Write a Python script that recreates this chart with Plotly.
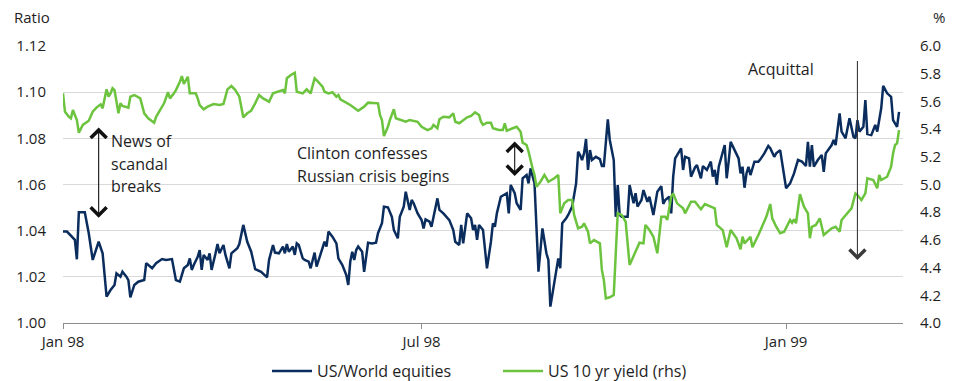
import pandas as pd
import plotly.graph_objects as go

# ---- data (day offsets from 1 Jan 1998) ----
equity_day = [0, 2, 6, 7, 8, 11, 13, 15, 18, 20, 22, 24, 26, 27, 29, 30, 32, 33, 34, 36, 38, 41, 42, 45, 47,
              50, 52, 55, 57, 59, 61, 63, 64, 65, 66, 68, 69, 70, 71, 73, 74, 75, 77, 78, 79, 81, 82, 84, 85,
              88, 89, 91, 93, 95, 97, 100, 103, 104, 106, 107, 109, 111, 112, 113, 114, 116, 117, 118, 119,
              121, 122, 124, 125, 126, 127, 128, 129, 131, 132, 133, 134, 136, 138, 139, 141, 143, 144, 145,
              146, 147, 148, 149, 151, 152, 153, 154, 156, 158, 159, 161, 162, 164, 166, 167, 169, 170, 172,
              173, 175, 176, 177, 179, 181, 182, 183, 185, 186, 188, 189, 190, 192, 195, 197, 198, 200, 201,
              202, 204, 206, 207, 208, 209, 210, 212, 214, 216, 217, 218, 219, 221, 223, 224, 225, 226, 228,
              229, 231, 232, 234, 235, 236, 237, 238, 240, 241, 242, 244, 245, 246, 248, 250, 251, 252, 254,
              255, 257, 259, 260, 261, 262, 263, 264, 265, 266, 267, 269, 271, 272, 273, 275, 276, 278, 279,
              280, 281, 282, 285, 286, 288, 289, 290, 292, 293, 295, 296, 298, 300, 302, 303, 304, 306, 307,
              308, 309, 312, 313, 314, 316, 317, 319, 320, 322, 323, 325, 327, 328, 329, 330, 331, 334, 335,
              336, 337, 339, 341, 342, 343, 344, 345, 346, 347, 349, 351, 352, 354, 356, 357, 359, 360, 362,
              363, 365, 367, 369, 371, 373, 375, 376, 377, 378, 379, 381, 383, 384, 385, 388, 389, 390, 392,
              393, 395, 397, 399, 400, 401, 402, 404, 405, 406, 408, 410, 411, 413, 414, 416, 418, 419, 421,
              422]
equity_ratio = [1.0396, 1.0396, 1.0360, 1.0276, 1.0480, 1.0480, 1.0389, 1.0273, 1.0352, 1.0302, 1.0114,
                1.0143, 1.0165, 1.0215, 1.0201, 1.0222, 1.0201, 1.0186, 1.0111, 1.0165, 1.0179, 1.0186,
                1.0259, 1.0237, 1.0259, 1.0277, 1.0273, 1.0277, 1.0186, 1.0179, 1.0237, 1.0251, 1.0280,
                1.0230, 1.0251, 1.0287, 1.0316, 1.0230, 1.0295, 1.0273, 1.0302, 1.0230, 1.0302, 1.0342,
                1.0302, 1.0338, 1.0295, 1.0237, 1.0302, 1.0324, 1.0342, 1.0425, 1.0352, 1.0309, 1.0233,
                1.0222, 1.0198, 1.0273, 1.0338, 1.0305, 1.0302, 1.0331, 1.0302, 1.0342, 1.0309, 1.0331,
                1.0295, 1.0345, 1.0338, 1.0280, 1.0273, 1.0266, 1.0237, 1.0273, 1.0305, 1.0244, 1.0273,
                1.0331, 1.0352, 1.0331, 1.0396, 1.0374, 1.0345, 1.0280, 1.0251, 1.0208, 1.0165, 1.0266,
                1.0309, 1.0273, 1.0316, 1.0331, 1.0309, 1.0222, 1.0287, 1.0348, 1.0345, 1.0348, 1.0389,
                1.0432, 1.0504, 1.0501, 1.0460, 1.0403, 1.0367, 1.0460, 1.0504, 1.0569, 1.0490, 1.0533,
                1.0519, 1.0475, 1.0446, 1.0410, 1.0449, 1.0439, 1.0417, 1.0504, 1.0540, 1.0490, 1.0475,
                1.0446, 1.0403, 1.0352, 1.0338, 1.0425, 1.0345, 1.0475, 1.0454, 1.0403, 1.0425, 1.0360,
                1.0425, 1.0403, 1.0237, 1.0352, 1.0432, 1.0417, 1.0475, 1.0547, 1.0555, 1.0562, 1.0475,
                1.0598, 1.0562, 1.0519, 1.0490, 1.0627, 1.0641, 1.0605, 1.0670, 1.0634, 1.0605, 1.0222,
                1.0331, 1.0410, 1.0302, 1.0273, 1.0071, 1.0186, 1.0280, 1.0237, 1.0432, 1.0454, 1.0468,
                1.0504, 1.0605, 1.0742, 1.0728, 1.0706, 1.0735, 1.0797, 1.0663, 1.0749, 1.0706, 1.0720,
                1.0710, 1.0680, 1.0680, 1.0882, 1.0793, 1.0706, 1.0460, 1.0598, 1.0468, 1.0460, 1.0460,
                1.0598, 1.0519, 1.0562, 1.0504, 1.0533, 1.0576, 1.0525, 1.0547, 1.0468, 1.0569, 1.0593,
                1.0516, 1.0533, 1.0547, 1.0475, 1.0634, 1.0713, 1.0757, 1.0663, 1.0720, 1.0713, 1.0634,
                1.0674, 1.0684, 1.0627, 1.0680, 1.0663, 1.0699, 1.0634, 1.0663, 1.0598, 1.0677, 1.0771,
                1.0627, 1.0699, 1.0785, 1.0749, 1.0713, 1.0648, 1.0677, 1.0586, 1.0648, 1.0677, 1.0641,
                1.0699, 1.0699, 1.0709, 1.0735, 1.0767, 1.0757, 1.0720, 1.0735, 1.0749, 1.0699, 1.0584,
                1.0605, 1.0648, 1.0706, 1.0699, 1.0680, 1.0785, 1.0677, 1.0771, 1.0677, 1.0706, 1.0728,
                1.0655, 1.0735, 1.0771, 1.0793, 1.0771, 1.0908, 1.0829, 1.0800, 1.0887, 1.0807, 1.0800,
                1.0879, 1.0829, 1.0850, 1.0966, 1.0819, 1.0814, 1.0858, 1.0829, 1.0930, 1.1027, 1.0995,
                1.0980, 1.0879, 1.0850, 1.0915]

yield_day = [0, 1, 3, 4, 5, 7, 8, 10, 13, 15, 17, 19, 20, 22, 23, 24, 25, 26, 28, 29, 30, 33, 34, 36, 39,
             41, 43, 46, 47, 49, 51, 53, 54, 56, 57, 59, 60, 61, 63, 64, 67, 68, 69, 71, 73, 76, 79, 81, 83,
             85, 87, 89, 90, 91, 93, 95, 97, 99, 101, 104, 106, 109, 111, 112, 113, 115, 117, 118, 121, 123,
             125, 127, 128, 131, 132, 134, 136, 138, 139, 140, 143, 145, 149, 152, 154, 157, 159, 160, 161,
             162, 164, 165, 167, 168, 170, 173, 175, 179, 181, 184, 186, 187, 189, 190, 192, 195, 197, 198,
             200, 202, 204, 206, 208, 210, 211, 212, 214, 216, 217, 220, 222, 223, 224, 227, 229, 231, 232,
             234, 235, 237, 238, 239, 241, 243, 245, 248, 250, 251, 253, 255, 257, 258, 260, 262, 263, 265,
             266, 268, 271, 272, 273, 274, 276, 278, 279, 280, 282, 284, 286, 288, 291, 293, 294, 296, 298,
             300, 302, 304, 305, 307, 308, 310, 313, 314, 317, 319, 322, 324, 326, 329, 330, 333, 335, 337,
             340, 342, 343, 344, 347, 348, 351, 353, 355, 357, 358, 360, 362, 364, 367, 368, 369, 370, 372,
             374, 376, 377, 378, 380, 382, 384, 386, 388, 390, 392, 393, 395, 398, 400, 401, 403, 405, 406,
             409, 411, 412, 413, 416, 418, 419, 420, 421, 422]
yield_pct = [5.658, 5.526, 5.489, 5.478, 5.538, 5.466, 5.374, 5.430, 5.461, 5.526, 5.557, 5.579, 5.550,
             5.687, 5.634, 5.658, 5.695, 5.682, 5.514, 5.586, 5.567, 5.554, 5.634, 5.646, 5.622, 5.514,
             5.478, 5.446, 5.489, 5.538, 5.586, 5.666, 5.622, 5.658, 5.682, 5.742, 5.783, 5.726, 5.778,
             5.658, 5.658, 5.622, 5.574, 5.543, 5.562, 5.581, 5.574, 5.581, 5.687, 5.711, 5.682, 5.634,
             5.562, 5.485, 5.514, 5.533, 5.586, 5.646, 5.622, 5.598, 5.658, 5.670, 5.682, 5.658, 5.767,
             5.791, 5.807, 5.670, 5.658, 5.687, 5.658, 5.767, 5.754, 5.706, 5.670, 5.658, 5.666, 5.634,
             5.646, 5.615, 5.591, 5.574, 5.533, 5.562, 5.591, 5.586, 5.586, 5.502, 5.466, 5.350, 5.417,
             5.466, 5.543, 5.478, 5.466, 5.453, 5.466, 5.453, 5.417, 5.393, 5.406, 5.430, 5.406, 5.471,
             5.489, 5.485, 5.514, 5.453, 5.442, 5.466, 5.485, 5.495, 5.521, 5.502, 5.453, 5.430, 5.446,
             5.446, 5.406, 5.393, 5.393, 5.442, 5.388, 5.406, 5.417, 5.381, 5.302, 5.285, 5.237, 5.117,
             5.069, 4.984, 5.020, 5.069, 5.020, 5.045, 5.069, 4.792, 4.864, 4.888, 4.888, 4.780, 4.684,
             4.695, 4.720, 4.659, 4.575, 4.599, 4.575, 4.383, 4.310, 4.178, 4.186, 4.202, 4.479, 4.792,
             4.780, 4.731, 4.419, 4.479, 4.580, 4.575, 4.708, 4.671, 4.623, 4.503, 4.767, 4.767, 4.744,
             4.912, 4.936, 4.864, 4.828, 4.792, 4.876, 4.876, 4.821, 4.859, 4.845, 4.828, 4.708, 4.671,
             4.547, 4.671, 4.612, 4.532, 4.623, 4.575, 4.623, 4.547, 4.635, 4.695, 4.767, 4.859, 4.756,
             4.695, 4.648, 4.659, 4.744, 4.724, 4.749, 4.720, 4.931, 4.840, 4.792, 4.612, 4.695, 4.708,
             4.756, 4.635, 4.659, 4.684, 4.695, 4.659, 4.744, 4.780, 4.828, 4.936, 4.924, 4.888, 4.936,
             5.045, 5.032, 4.973, 5.069, 5.032, 5.056, 5.128, 5.225, 5.285, 5.297, 5.393]

tick_dates = ["1998-01-01", "1998-07-01", "1999-01-01"]
tick_labels = ["Jan 98", "Jul 98", "Jan 99"]

base = pd.Timestamp("1998-01-01")
eq_dates = base + pd.to_timedelta(equity_day, unit="D")
yl_dates = base + pd.to_timedelta(yield_day, unit="D")

NAVY = "#0A2D5E"
GREEN = "#6CC33E"
FONT = "Open Sans"
TXT = "#1E1E1E"

fig = go.Figure()
fig.add_trace(go.Scatter(x=eq_dates, y=equity_ratio, name="US/World equities", mode="lines",
                         line=dict(color=NAVY, width=2.5), yaxis="y"))
fig.add_trace(go.Scatter(x=yl_dates, y=yield_pct, name="US 10 yr yield (rhs)", mode="lines",
                         line=dict(color=GREEN, width=2.5), yaxis="y2"))

ann = []
def txt(x, y, t):
    ann.append(dict(x=x, y=y, xref="x", yref="y", text=t, showarrow=False, xanchor="left",
                    yanchor="middle", font=dict(family=FONT, size=16, color=TXT)))

txt("1998-01-24", 1.0790, "News of")
txt("1998-01-24", 1.0689, "scandal")
txt("1998-01-24", 1.0593, "breaks")
txt("1998-04-28", 1.0738, "Clinton confesses")
txt("1998-04-28", 1.0637, "Russian crisis begins")
txt("1998-12-12", 1.1099, "Acquittal")

def arrow(x, y_head, y_tail, side, color):
    ann.append(dict(x=x, y=y_head, ax=x, ay=y_tail, xref="x", yref="y", axref="x", ayref="y",
                    text="", showarrow=True, arrowside=side, arrowhead=4, startarrowhead=4,
                    arrowsize=2.8, startarrowsize=2.8, arrowwidth=1.1, arrowcolor=color,
                    standoff=0, startstandoff=0))

arrow("1998-01-19", 1.0456, 1.0853, "end+start", "#111111")
arrow("1998-08-17", 1.0637, 1.0793, "end+start", "#111111")
arrow("1999-02-06", 1.0273, 1.1142, "end", "#3A3A3A")

fig.update_layout(annotations=ann)
fig.add_annotation(x=(12 - 63) / 840, y=1 + (46 - 17) / 277, xref="paper", yref="paper",
                   text="Ratio", showarrow=False, xanchor="left", yanchor="middle",
                   font=dict(family=FONT, size=15, color=TXT))
fig.add_annotation(x=1 + (947 - 903) / 840, y=1 + (46 - 17) / 277, xref="paper", yref="paper",
                   text="%", showarrow=False, xanchor="right", yanchor="middle",
                   font=dict(family=FONT, size=15, color=TXT))

fig.update_layout(
    width=959, height=381,
    margin=dict(l=63, r=56, t=46, b=58, autoexpand=False),
    paper_bgcolor="white", plot_bgcolor="white",
    font=dict(family=FONT, size=15, color=TXT),
    showlegend=True,
    legend=dict(orientation="h", xref="container", x=267 / 959, xanchor="left",
                yref="container", y=1 - 371 / 381, yanchor="middle",
                font=dict(family=FONT, size=16, color=TXT), itemwidth=40,
                entrywidth=176, entrywidthmode="pixels", bgcolor="rgba(0,0,0,0)"),
    xaxis=dict(type="date", range=["1998-01-01", "1999-03-01"], tickvals=tick_dates,
               ticktext=tick_labels, showgrid=False, showline=True, linecolor="#8C8C8C",
               linewidth=1.2, ticks="outside", ticklen=5, tickcolor="#8C8C8C", zeroline=False,
               tickfont=dict(family=FONT, size=15, color=TXT)),
    yaxis=dict(range=[1.00, 1.12], dtick=0.02, tickformat=".2f", showgrid=True,
               gridcolor="#D9D9D9", gridwidth=1, zeroline=False, showline=False, ticks="",
               ticklabelstandoff=16, tickfont=dict(family=FONT, size=15, color=TXT)),
    yaxis2=dict(range=[4.0, 6.0], dtick=0.2, tickformat=".1f", overlaying="y", side="right",
                showgrid=False, zeroline=False, showline=False, ticks="", ticklabelstandoff=16,
                tickfont=dict(family=FONT, size=15, color=TXT)),
)

fig.write_html("out.html")
